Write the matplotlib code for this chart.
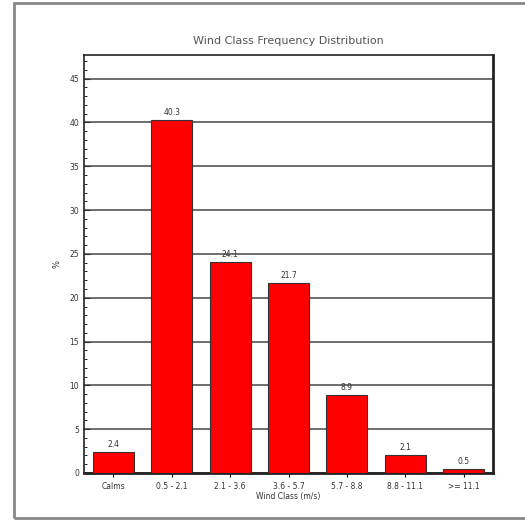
import matplotlib.pyplot as plt
import numpy as np
from matplotlib.patches import Rectangle

categories = ["Calms", "0.5 - 2.1", "2.1 - 3.6", "3.6 - 5.7", "5.7 - 8.8", "8.8 - 11.1", ">= 11.1"]
freq = [2.4, 40.3, 24.1, 21.7, 8.9, 2.1, 0.5]
y_ticks = [0, 5, 10, 15, 20, 25, 30, 35, 40, 45]

fig = plt.figure(figsize=(5.25, 5.22), dpi=100)
# outer frame (right side runs off the image)
fig.patches.append(Rectangle((14 / 525, 4 / 522), 530 / 525, 515 / 522,
                             transform=fig.transFigure, fill=False,
                             edgecolor="#888888", linewidth=2))

ax = fig.add_axes([84 / 525, 49 / 522, 409 / 525, 418 / 522])
x = np.arange(len(categories))
ax.bar(x, freq, width=0.7, color="#ff0000", edgecolor="#333333",
       linewidth=0.8, zorder=3)

for xi, v in zip(x, freq):
    ax.text(xi, v + 0.3, f"{v:.1f}", ha="center", va="bottom", fontsize=5.5, color="#333333")

ax.set_xlim(-0.5, len(categories) - 0.5)
ax.set_ylim(0, 47.7)
ax.set_yticks(y_ticks)
ax.set_yticks(np.arange(0, 48, 1), minor=True)
ax.set_xticks(x)
ax.set_xticklabels(categories, fontsize=5.5, color="#333333")
ax.tick_params(axis="y", labelsize=5.5, colors="#333333", length=4, direction="in")
ax.tick_params(axis="y", which="minor", length=2, direction="in")
ax.tick_params(axis="x", length=3)
ax.grid(axis="y", color="#555555", linewidth=1.2, zorder=0)

for s in ax.spines.values():
    s.set_color("#222222")
    s.set_linewidth(1.2)
ax.spines["bottom"].set_linewidth(2)
ax.spines["right"].set_linewidth(2)

ax.set_title("Wind Class Frequency Distribution", fontsize=8, color="#555555", pad=8)
ax.set_xlabel("Wind Class (m/s)", fontsize=5.5, color="#333333", labelpad=1)
ax.set_ylabel("%", fontsize=6, color="#333333", labelpad=6)

fig.savefig("out.png", dpi=100)
